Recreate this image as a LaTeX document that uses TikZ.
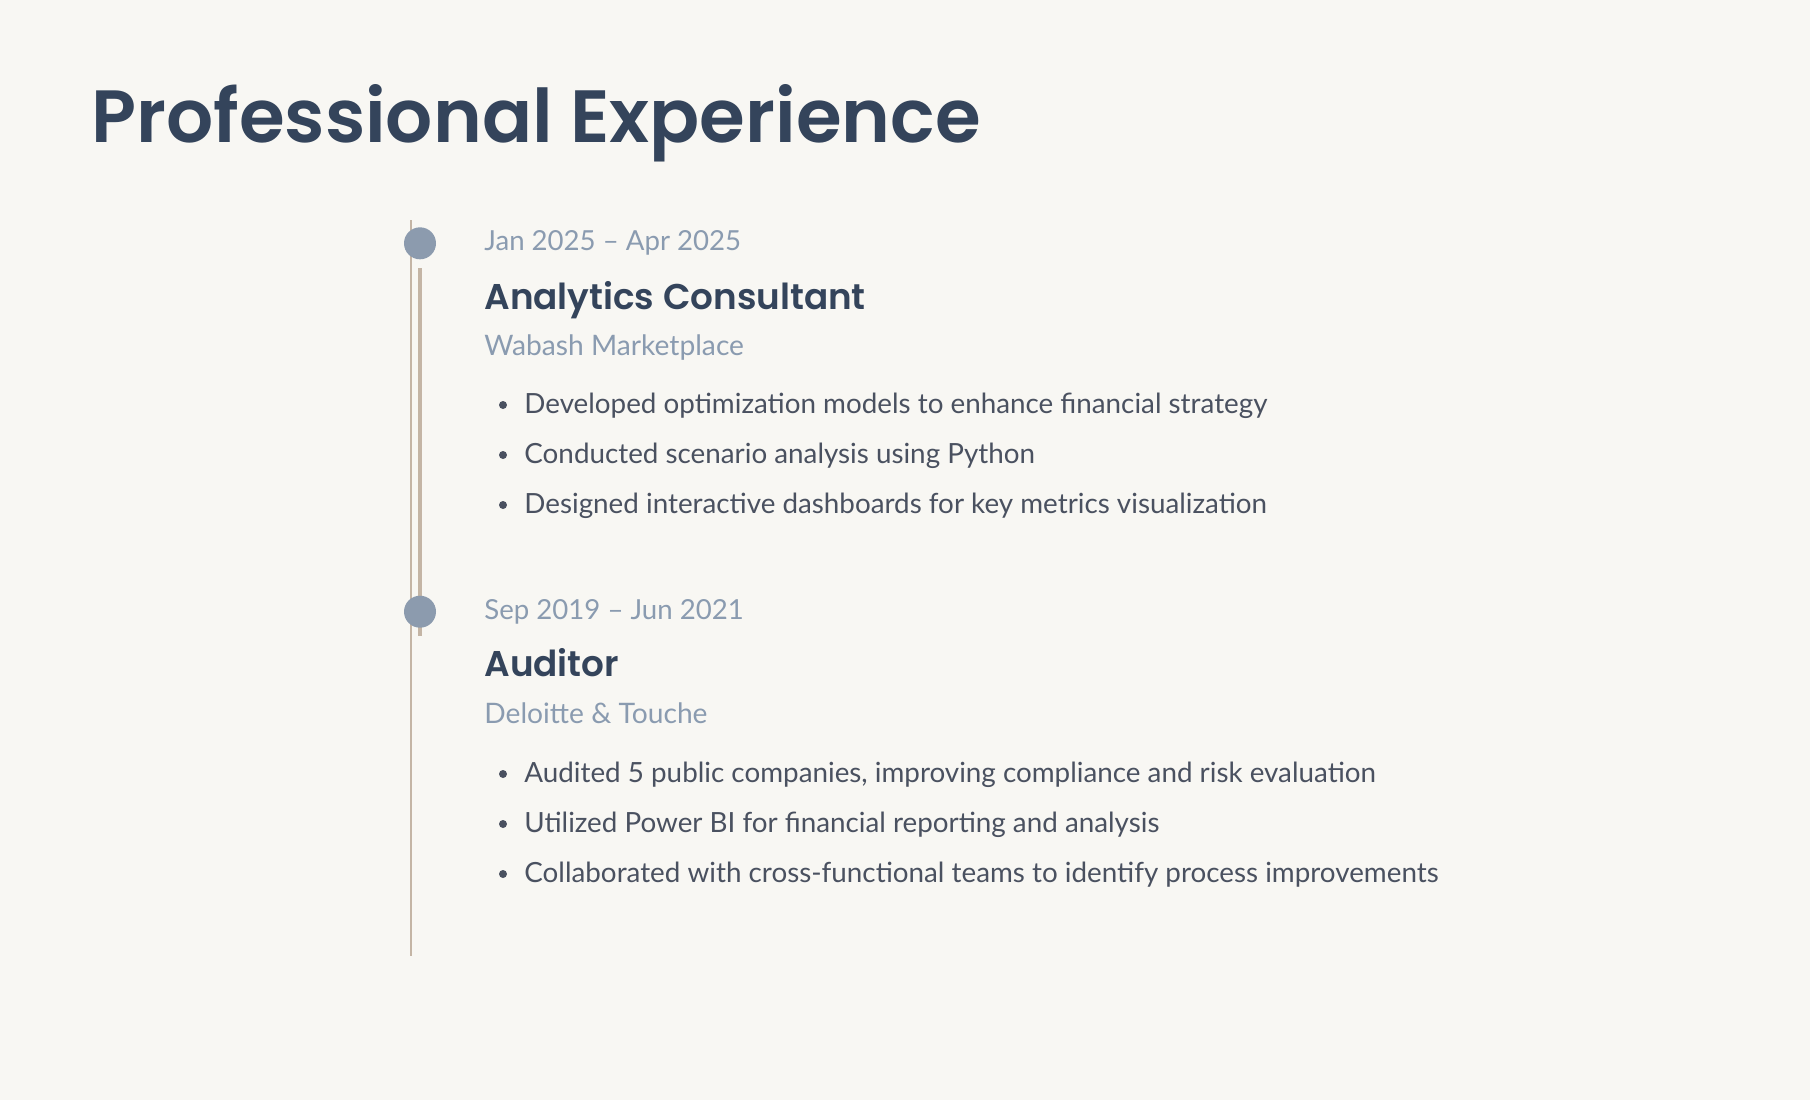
\documentclass[tikz,border=0pt]{standalone}
\usepackage{fontspec}
\setmainfont{Lato}
\newfontfamily\headfont{Poppins SemiBold}
\definecolor{pagebg}{HTML}{F8F7F3}
\definecolor{titleink}{HTML}{34445B}
\definecolor{mutedink}{HTML}{8A9BB0}
\definecolor{bodyink}{HTML}{4A5160}
\definecolor{railtan}{HTML}{C4B5A5}
\definecolor{dotgray}{HTML}{8C9BAE}
\tikzset{
  pagetitle/.style={anchor=base west, inner sep=0pt, text=titleink,
    font=\headfont\fontsize{37}{44}\selectfont},
  period/.style={anchor=base west, inner sep=0pt, text=mutedink,
    font=\fontsize{13.8}{17}\selectfont},
  role/.style={anchor=base west, inner sep=0pt, text=titleink,
    font=\headfont\fontsize{17.9}{22}\selectfont},
  employer/.style={anchor=base west, inner sep=0pt, text=mutedink,
    font=\fontsize{14.1}{17}\selectfont},
  item/.style={anchor=base west, inner sep=0pt, text=bodyink,
    font=\fontsize{13.9}{17}\selectfont},
  itemdot/.style={circle, fill=bodyink, inner sep=0pt, minimum size=4pt},
  milestone/.style={circle, fill=dotgray, inner sep=0pt, minimum size=16pt},
}
\begin{document}
\begin{tikzpicture}[x=0.5pt, y=-0.5pt]
  % page
  \fill[pagebg] (0,0) rectangle (1810,1100);
  \useasboundingbox (0,0) rectangle (1810,1100);

  \node[pagetitle] (title) at (91,142.7) {Professional Experience};

  % timeline rails
  \coordinate (railtop) at (410.7,220);
  \coordinate (railbot) at (410.7,956);
  \draw[railtan, line width=1pt] (railtop) -- (railbot);
  \coordinate (spantop) at (420,268);
  \coordinate (spanbot) at (420,636);
  \draw[railtan, line width=2pt] (spantop) -- (spanbot);

  % milestones
  \node[milestone] (dot1) at (420,243.3) {};
  \node[milestone] (dot2) at (420,611.7) {};

  % first position
  \node[period] (date1) at (484,250.7) {Jan 2025 – Apr 2025};
  \node[role] (role1) at (484,309) {Analytics Consultant};
  \node[employer] (comp1) at (484,355) {Wabash Marketplace};
  \node[itemdot] (b1a) at (503,405) {};
  \node[item] (t1a) at (524,413.3) {Developed optimization models to enhance financial strategy};
  \node[itemdot] (b1b) at (503,455) {};
  \node[item] (t1b) at (524,463.3) {Conducted scenario analysis using Python};
  \node[itemdot] (b1c) at (503,505) {};
  \node[item] (t1c) at (524,513.3) {Designed interactive dashboards for key metrics visualization};

  % second position
  \node[period] (date2) at (484,619.3) {Sep 2019 – Jun 2021};
  \node[role] (role2) at (484,676.7) {Auditor};
  \node[employer] (comp2) at (484,723) {Deloitte \& Touche};
  \node[itemdot] (b2a) at (503,774) {};
  \node[item] (t2a) at (524,782.3) {Audited 5 public companies, improving compliance and risk evaluation};
  \node[itemdot] (b2b) at (503,824) {};
  \node[item] (t2b) at (524,832.3) {Utilized Power BI for financial reporting and analysis};
  \node[itemdot] (b2c) at (503,874) {};
  \node[item] (t2c) at (524,882.3) {Collaborated with cross-functional teams to identify process improvements};
\end{tikzpicture}
\end{document}
